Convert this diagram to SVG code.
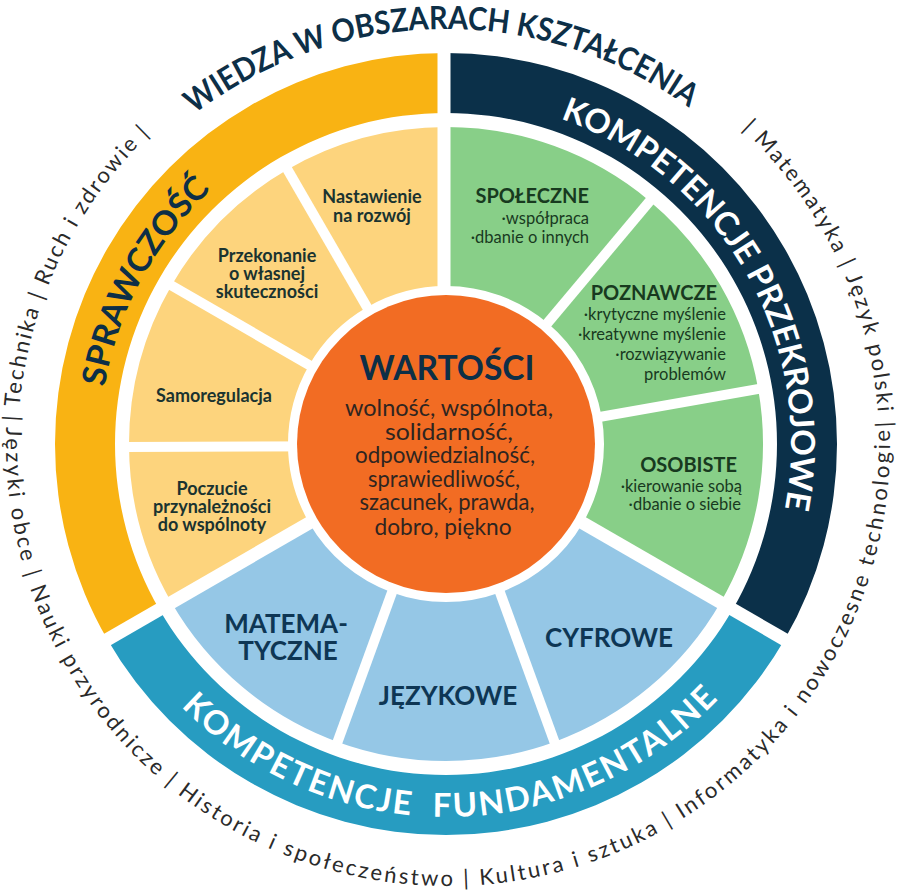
<svg xmlns="http://www.w3.org/2000/svg" width="899" height="891" viewBox="0 0 899 891">
<style>
text{font-family:Lato,"Open Sans","Noto Sans",sans-serif}
.bandt{font-weight:700}
.navy{fill:#0D2F47}
.wh{fill:#fff}
.yt{fill:#1A3330;font-weight:700;font-size:18px;text-anchor:middle}
.gt{fill:#183A1F;font-weight:700;font-size:20px;text-anchor:end}
.gi{fill:#183A1F;font-size:16.5px;text-anchor:end}
.bt{fill:#0E3654;font-weight:700;font-size:26px;text-anchor:middle}
.ov{fill:#2F2520;font-size:22.5px;text-anchor:middle}
.outer{fill:#2a2a2a;font-size:22px;font-weight:400}
.sep{stroke:#fff;stroke-width:10}
.bsep{stroke:#fff;stroke-width:13}
.yb{fill:#F9B313}.db{fill:#0B3049}.tb{fill:#279CC1}
.yw{fill:#FDD47D}.gw{fill:#88CF88}.bw{fill:#95C7E6}
</style>
<defs>
<path id="pWiedza" d="M194.3,114.3 A414,414 0 0 1 686.7,106.2"/>
<path id="pSpraw" d="M104.7,386.9 A346,346 0 0 1 210.9,190.1"/>
<path id="pPrzek" d="M560.6,118.6 A345,345 0 0 1 784.9,508.7"/>
<path id="pFund" d="M181.3,706.8 A373,373 0 0 0 717.9,699.3"/>
<path id="pUL" d="M18.6,421.5 A430,430 0 0 1 149.3,134.7"/>
<path id="pUR" d="M741.9,128.8 A431,431 0 0 1 878.7,427.5"/>
<path id="pLow" d="M6.33,427.03 A442,442 0 1 0 889.67,427.03"/>
</defs>
<rect width="899" height="891" fill="#fff"/>

<g id="band-sprawczosc">
<path class="yb" d="M107.38,639.5 A391,391 0 0 1 446,53 L446,113 A331,331 0 0 0 159.35,609.5 Z"/>
<text class="bandt navy" font-size="33"><textPath href="#pSpraw" textLength="227.7" lengthAdjust="spacingAndGlyphs">SPRAWCZOŚĆ</textPath></text>
</g>
<g id="band-przekrojowe">
<path class="db" d="M446,53 A391,391 0 0 1 784.62,639.5 L732.65,609.5 A331,331 0 0 0 446,113 Z"/>
</g>
<g id="band-fundamentalne">
<path class="tb" d="M784.62,639.5 A391,391 0 0 1 107.38,639.5 L159.35,609.5 A331,331 0 0 0 732.65,609.5 Z"/>
</g>

<g id="wedges-yellow">
<path class="yw" d="M287.5,169.47 A317,317 0 0 1 446,127 L446,286 A158,158 0 0 0 367,307.17 Z"/>
<path class="yw" d="M171.47,285.5 A317,317 0 0 1 287.5,169.47 L367,307.17 A158,158 0 0 0 309.17,365 Z"/>
<path class="yw" d="M129,444 A317,317 0 0 1 171.47,285.5 L309.17,365 A158,158 0 0 0 288,444 Z"/>
<path class="yw" d="M171.47,602.5 A317,317 0 0 1 129,444 L288,444 A158,158 0 0 0 309.17,523 Z"/>
</g>
<g id="wedges-green">
<path class="gw" d="M446,127 A317,317 0 0 1 649.76,201.16 L547.56,322.96 A158,158 0 0 0 446,286 Z"/>
<path class="gw" d="M649.76,201.16 A317,317 0 0 1 758.18,388.95 L601.6,416.56 A158,158 0 0 0 547.56,322.96 Z"/>
<path class="gw" d="M758.18,388.95 A317,317 0 0 1 720.53,602.5 L582.83,523 A158,158 0 0 0 601.6,416.56 Z"/>
</g>
<g id="wedges-blue">
<path class="bw" d="M337.58,741.88 A317,317 0 0 1 171.47,602.5 L309.17,523 A158,158 0 0 0 391.96,592.47 Z"/>
<path class="bw" d="M554.42,741.88 A317,317 0 0 1 337.58,741.88 L391.96,592.47 A158,158 0 0 0 500.04,592.47 Z"/>
<path class="bw" d="M720.53,602.5 A317,317 0 0 1 554.42,741.88 L500.04,592.47 A158,158 0 0 0 582.83,523 Z"/>
</g>

<g id="separators">
<line class="bsep" x1="444" y1="444" x2="444" y2="40"/>
<line class="bsep" x1="446" y1="444" x2="792.4" y2="644"/>
<line class="bsep" x1="446" y1="444" x2="99.6" y2="644"/>
<line class="sep" x1="446" y1="444" x2="556.13" y2="746.58"/>
<line class="sep" x1="446" y1="444" x2="335.87" y2="746.58"/>
<line class="sep" x1="446" y1="446" x2="124" y2="447"/>
<line class="sep" x1="446" y1="444" x2="167.14" y2="283"/>
<line class="sep" x1="446" y1="444" x2="285" y2="165.14"/>
<line class="sep" x1="446" y1="444" x2="652.98" y2="197.33"/>
<line class="sep" x1="446" y1="444" x2="763.1" y2="388.09"/>
</g>

<g id="band-labels">
<text class="bandt wh" font-size="33"><textPath href="#pPrzek" textLength="490" lengthAdjust="spacingAndGlyphs">KOMPETENCJE PRZEKROJOWE</textPath></text>
<text class="bandt wh" font-size="33"><textPath href="#pFund" textLength="599" lengthAdjust="spacing">KOMPETENCJE&#160; FUNDAMENTALNE</textPath></text>
<text class="bandt navy" font-size="32"><textPath href="#pWiedza" textLength="530" lengthAdjust="spacingAndGlyphs">WIEDZA W OBSZARACH KSZTAŁCENIA</textPath></text>
</g>

<g id="subjects">
<text class="outer"><textPath href="#pUL" textLength="322.7" lengthAdjust="spacing">| Technika | Ruch i zdrowie |</textPath></text>
<text class="outer"><textPath href="#pUR" textLength="337" lengthAdjust="spacing">| Matematyka | Język polski |</textPath></text>
<text class="outer"><textPath href="#pLow" textLength="1419.4" lengthAdjust="spacing">Języki obce | Nauki przyrodnicze | Historia i społeczeństwo | Kultura i sztuka | Informatyka i nowoczesne technologie</textPath></text>
</g>

<g id="node-nastawienie">
<text class="yt" x="372" y="203">Nastawienie</text>
<text class="yt" x="372" y="222">na rozwój</text>
</g>
<g id="node-przekonanie">
<text class="yt" x="267" y="262">Przekonanie</text>
<text class="yt" x="267" y="280">o własnej</text>
<text class="yt" x="267" y="298">skuteczności</text>
</g>
<g id="node-samoregulacja">
<text class="yt" x="214" y="402">Samoregulacja</text>
</g>
<g id="node-poczucie">
<text class="yt" x="212" y="495">Poczucie</text>
<text class="yt" x="212" y="513">przynależności</text>
<text class="yt" x="212" y="531">do wspólnoty</text>
</g>

<g id="node-spoleczne">
<text class="gt" x="589" y="203">SPOŁECZNE</text>
<text class="gi" x="589" y="224">·współpraca</text>
<text class="gi" x="589" y="243">·dbanie o innych</text>
</g>
<g id="node-poznawcze">
<text class="gt" x="717" y="300">POZNAWCZE</text>
<text class="gi" x="726" y="320">·krytyczne myślenie</text>
<text class="gi" x="726" y="340">·kreatywne myślenie</text>
<text class="gi" x="726" y="360">·rozwiązywanie</text>
<text class="gi" x="726" y="380">problemów</text>
</g>
<g id="node-osobiste">
<text class="gt" x="737" y="472">OSOBISTE</text>
<text class="gi" x="742" y="492">·kierowanie sobą</text>
<text class="gi" x="741" y="510">·dbanie o siebie</text>
</g>

<g id="node-matematyczne">
<text class="bt" x="286" y="633">MATEMA-</text>
<text class="bt" x="288" y="660">TYCZNE</text>
</g>
<g id="node-jezykowe">
<text class="bt" x="448" y="705">JĘZYKOWE</text>
</g>
<g id="node-cyfrowe">
<text class="bt" x="609" y="647">CYFROWE</text>
</g>

<g id="node-wartosci">
<circle cx="446" cy="444" r="149" fill="#F26C23"/>
<text x="447" y="380" class="navy" font-size="34" font-weight="700" text-anchor="middle" textLength="175" lengthAdjust="spacingAndGlyphs">WARTOŚCI</text>
<text class="ov" x="449" y="416" textLength="208" lengthAdjust="spacingAndGlyphs">wolność, wspólnota,</text>
<text class="ov" x="449" y="440" textLength="128" lengthAdjust="spacingAndGlyphs">solidarność,</text>
<text class="ov" x="445" y="463" textLength="180" lengthAdjust="spacingAndGlyphs">odpowiedzialność,</text>
<text class="ov" x="444" y="487" textLength="152" lengthAdjust="spacingAndGlyphs">sprawiedliwość,</text>
<text class="ov" x="447" y="510" textLength="175" lengthAdjust="spacingAndGlyphs">szacunek, prawda,</text>
<text class="ov" x="443" y="535" textLength="137" lengthAdjust="spacingAndGlyphs">dobro, piękno</text>
</g>
</svg>
